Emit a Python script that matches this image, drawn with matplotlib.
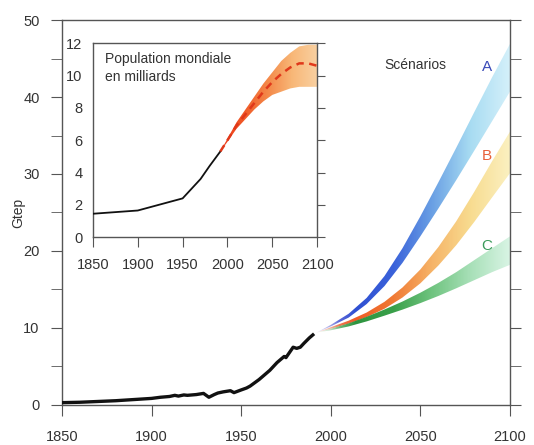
import numpy as np
import matplotlib
matplotlib.use("Agg")
import matplotlib.pyplot as plt
from matplotlib.colors import LinearSegmentedColormap

plt.rcParams['font.family'] = ['Liberation Sans', 'DejaVu Sans']

# consommation mondiale d'energie (Gtep), historique
hist_years = [1850, 1860, 1870, 1880, 1890, 1900, 1905, 1910, 1913, 1915, 1918, 1920,
              1925, 1929, 1932, 1935, 1937, 1940, 1944, 1946, 1950, 1953, 1955, 1960,
              1966, 1970, 1974, 1975, 1979, 1981, 1983, 1985, 1988, 1990]
hist_gtep = [0.3, 0.35, 0.45, 0.55, 0.7, 0.85, 1.0, 1.1, 1.25, 1.15, 1.3, 1.25,
             1.35, 1.5, 1.0, 1.35, 1.55, 1.7, 1.85, 1.6, 1.95, 2.2, 2.45, 3.3,
             4.5, 5.5, 6.3, 6.15, 7.5, 7.35, 7.5, 8.0, 8.7, 9.1]

# scenarios A, B, C (bornes basse / haute)
scen_years = [1992, 2000, 2010, 2020, 2030, 2040, 2050, 2060, 2070, 2080, 2090, 2100]
a_low = [9.4, 10.2, 11.35, 13.1, 15.45, 18.45, 21.9, 25.5, 29.2, 33.0, 36.85, 40.7]
a_high = [9.4, 10.4, 11.85, 13.9, 16.75, 20.35, 24.5, 28.9, 33.4, 38.0, 42.55, 46.9]
b_low = [9.4, 9.9, 10.55, 11.4, 12.5, 13.95, 15.8, 18.1, 20.75, 23.75, 26.95, 30.1]
b_high = [9.4, 10.1, 10.95, 12.0, 13.4, 15.25, 17.6, 20.5, 23.85, 27.65, 31.65, 35.5]
c_low = [9.4, 9.7, 10.2, 10.85, 11.6, 12.38, 13.23, 14.15, 15.15, 16.2, 17.25, 18.2]
c_high = [9.4, 9.9, 10.6, 11.45, 12.4, 13.43, 14.58, 15.85, 17.25, 18.8, 20.35, 21.9]

# population mondiale (milliards)
pop_years = [1850, 1900, 1950, 1960, 1970, 1980, 1992]
pop_vals = [1.45, 1.65, 2.4, 3.0, 3.6, 4.4, 5.3]
proj_years = [1992, 2000, 2010, 2020, 2030, 2040, 2050, 2060, 2070, 2080, 2090, 2100]
proj_mid = [5.3, 6.0, 6.9, 7.6, 8.3, 9.0, 9.6, 10.1, 10.5, 10.75, 10.75, 10.6]
proj_low = [5.3, 5.9, 6.7, 7.3, 7.9, 8.4, 8.8, 9.0, 9.2, 9.3, 9.3, 9.3]
proj_high = [5.3, 6.1, 7.1, 7.9, 8.7, 9.5, 10.2, 10.9, 11.4, 11.8, 11.9, 11.9]

SPINE = '#555555'
TXT = '#333333'
FS = 10


def gradient_band(ax, years, low, high, colors, ymax, start_alpha=0.15, z=2):
    poly = ax.fill_between(years, low, high, facecolor='none', edgecolor='none')
    cmap = LinearSegmentedColormap.from_list('g', colors)
    t = np.linspace(0, 1, 300)
    rgba = cmap(t)
    rgba[:, 3] = np.clip(start_alpha + (1 - start_alpha) * t / 0.12, 0, 1)
    im = ax.imshow(rgba[None, :, :], extent=[years[0], years[-1], 0, ymax],
                   aspect='auto', origin='lower', zorder=z, interpolation='bilinear')
    im.set_clip_path(poly.get_paths()[0], transform=ax.transData)


fig = plt.figure(figsize=(5.34, 4.45), dpi=100)
ax = fig.add_axes([0.116, 0.090, 0.839, 0.865])

gradient_band(ax, scen_years, a_low, a_high,
              ['#9a8ce0', '#2f4fd2', '#3a62da', '#6aa0e4', '#a8dcf2', '#d4f0fa'], 50)
gradient_band(ax, scen_years, b_low, b_high,
              ['#f0a090', '#ee5a26', '#f07a34', '#f6b468', '#f8dc90', '#fbf0c0'], 50)
gradient_band(ax, scen_years, c_low, c_high,
              ['#c8e8c8', '#2e9440', '#3aa04a', '#70c480', '#a8e0b8', '#d8f4e4'], 50,
              start_alpha=0.0)

ax.plot(hist_years, hist_gtep, color='#111111', lw=2.4, zorder=5)

ax.set_xlim(1850, 2100)
ax.set_ylim(0, 50)
ax.set_xticks([1850, 1900, 1950, 2000, 2050, 2100])
ax.set_yticks([0, 10, 20, 30, 40, 50])
ax.set_yticks(np.arange(5, 50, 10), minor=True)
ax.tick_params(axis='x', direction='out', length=8, pad=10, labelsize=FS + 0.5,
               color=SPINE, labelcolor=TXT)
ax.tick_params(axis='y', which='both', direction='out', length=8, pad=8,
               labelsize=FS + 0.5, color=SPINE, labelcolor=TXT, right=True)
for s in ax.spines.values():
    s.set_color(SPINE)
    s.set_linewidth(1.0)
ax.set_ylabel('Gtep', fontsize=FS, color=TXT)
ax.yaxis.set_label_coords(-0.082, 0.5)

ax.text(2047, 44.2, 'Scénarios', fontsize=FS, color=TXT, ha='center', va='center')
ax.text(2087, 43.9, 'A', fontsize=11, color='#3a4ab8', ha='center', va='center')
ax.text(2087, 32.3, 'B', fontsize=11, color='#e8603a', ha='center', va='center')
ax.text(2087, 20.6, 'C', fontsize=11, color='#3a9a5a', ha='center', va='center')

# encart population
ins = fig.add_axes([0.174, 0.467, 0.420, 0.436])
gradient_band(ins, proj_years, proj_low, proj_high,
              ['#ee3a18', '#f05a28', '#f48a4a', '#f8b878', '#f9d0a0'], 12,
              start_alpha=1.0)
ins.plot(pop_years, pop_vals, color='#111111', lw=1.3, zorder=5)
ins.plot(proj_years, proj_mid, color='#e0381a', lw=1.8, ls=(0, (3, 2.2)), zorder=5)
ins.set_xlim(1850, 2100)
ins.set_ylim(0, 12)
ins.set_xticks([1850, 1900, 1950, 2000, 2050, 2100])
ins.set_yticks(np.arange(0, 13, 2))
ins.tick_params(axis='x', direction='out', length=7, pad=8, labelsize=FS + 0.5,
                color=SPINE, labelcolor=TXT)
ins.tick_params(axis='y', direction='out', length=6, pad=1.5, labelsize=FS + 0.5,
                color=SPINE, labelcolor=TXT, left=False, right=True)
for s in ins.spines.values():
    s.set_color(SPINE)
    s.set_linewidth(1.0)
ins.text(0.055, 0.955, 'Population mondiale\nen milliards', transform=ins.transAxes,
         fontsize=FS, color=TXT, ha='left', va='top', linespacing=1.4)

fig.savefig('out.png', dpi=100)
